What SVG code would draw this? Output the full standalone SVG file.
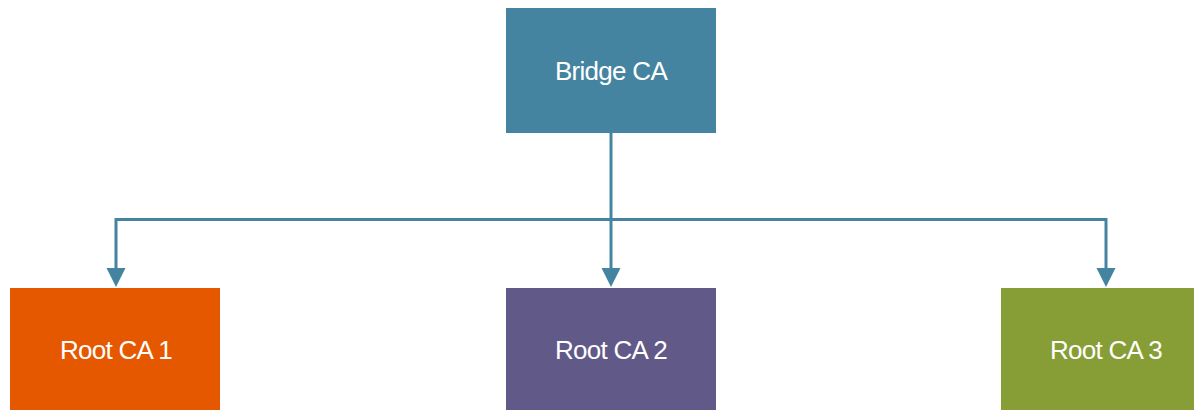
<svg xmlns="http://www.w3.org/2000/svg" width="1194" height="410" viewBox="0 0 1194 410">
<style>
.lbl{font-family:"Liberation Sans",Arial,sans-serif;font-size:26px;fill:#ffffff;text-anchor:middle;letter-spacing:-0.7px}
.conn{stroke:#4484a0;stroke-width:3;fill:none}
.head{fill:#4484a0}
</style>
<rect width="1194" height="410" fill="#ffffff"/>
<g id="connectors">
<path class="conn" d="M611,133 V219.5"/>
<path class="conn" d="M116,219.5 H1106"/>
<path class="conn" d="M116,218 V270"/>
<path class="conn" d="M611,219 V270"/>
<path class="conn" d="M1106,218 V270"/>
<path class="head" d="M106.5,268 L125.5,268 L116,287 Z"/>
<path class="head" d="M601.5,268 L620.5,268 L611,287 Z"/>
<path class="head" d="M1096.5,268 L1115.5,268 L1106,287 Z"/>
</g>
<g id="bridge">
<rect x="506" y="8" width="210" height="125" fill="#4484a0"/>
<text class="lbl" x="611" y="80">Bridge CA</text>
</g>
<g id="root1">
<rect x="10" y="288" width="210" height="122" fill="#e65800"/>
<text class="lbl" x="116" y="359">Root CA 1</text>
</g>
<g id="root2">
<rect x="506" y="288" width="210" height="122" fill="#615987"/>
<text class="lbl" x="611" y="359">Root CA 2</text>
</g>
<g id="root3">
<rect x="1001" y="288" width="210" height="122" fill="#879d35"/>
<text class="lbl" x="1106" y="359">Root CA 3</text>
</g>
</svg>
